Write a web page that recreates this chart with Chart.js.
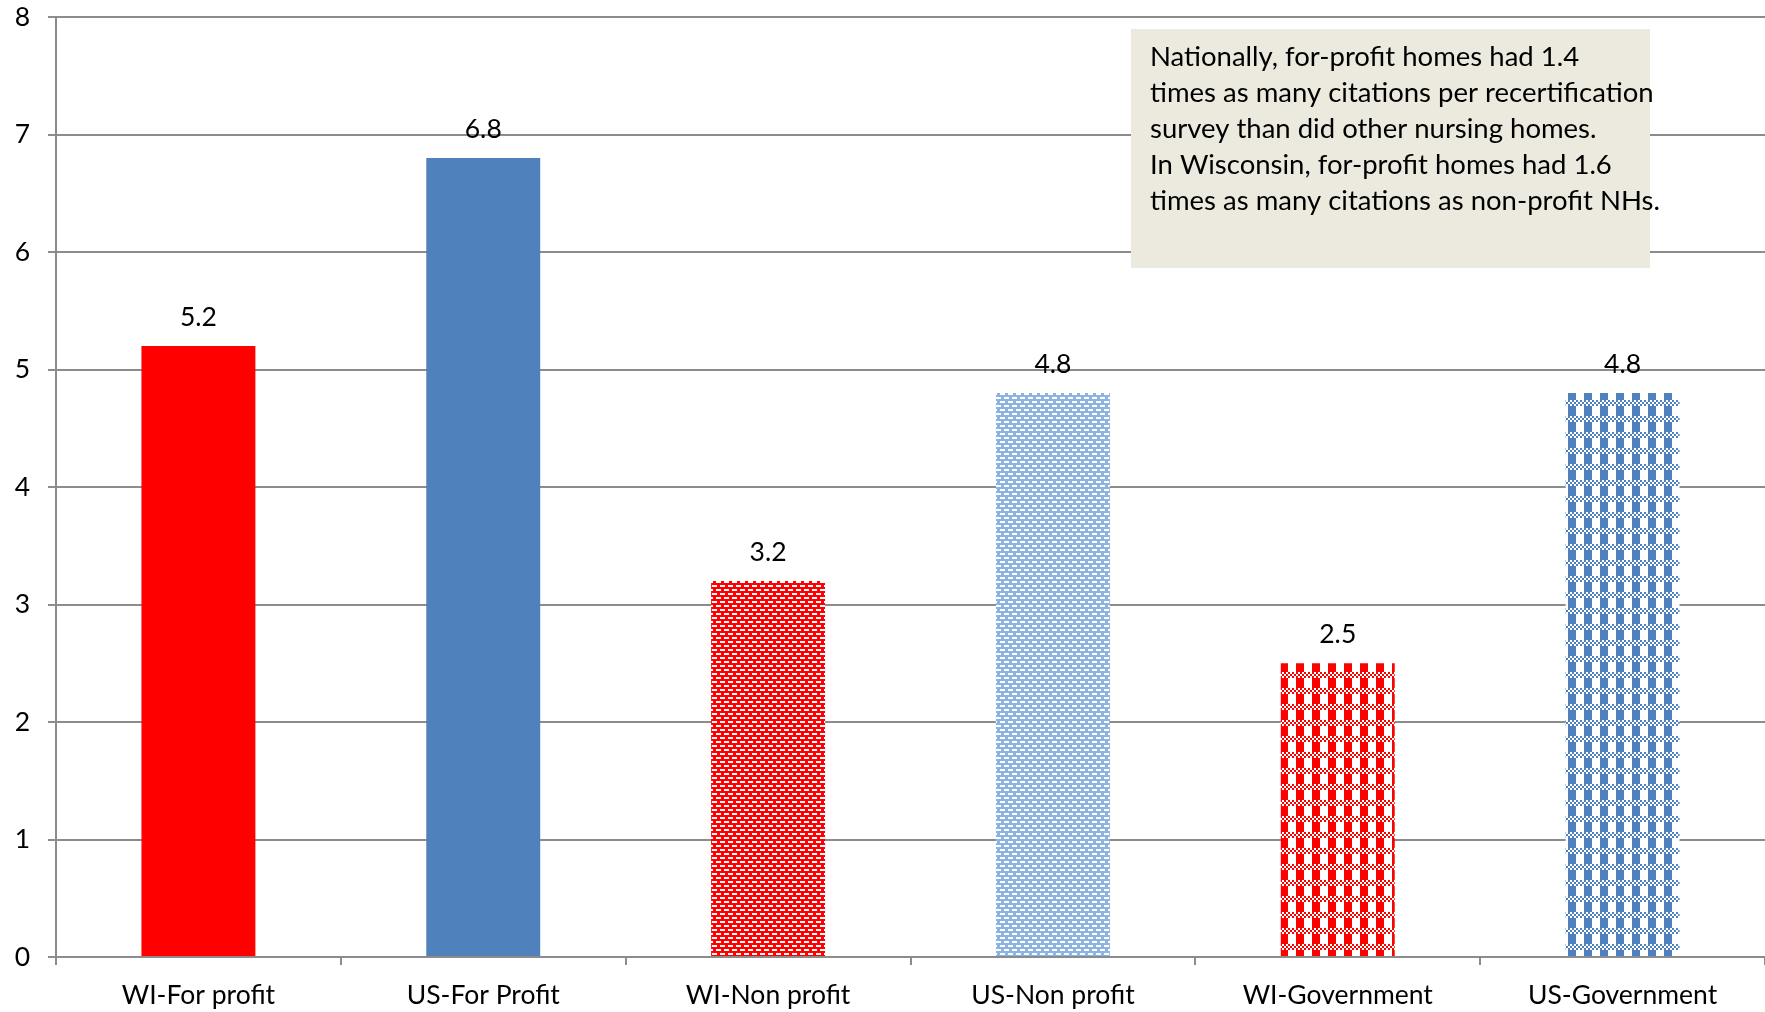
<!DOCTYPE html>
<html>
<head>
<meta charset="utf-8">
<script src="https://cdn.jsdelivr.net/npm/chart.js@4.4.1/dist/chart.umd.min.js"></script>
<style>
html,body{margin:0;padding:0;background:#fff;}
#wrap{width:1765px;height:1012px;position:relative;}
</style>
</head>
<body>
<div id="wrap"><canvas id="c" width="1765" height="1012"></canvas></div>
<script>
const categories = ["WI-For profit","US-For Profit","WI-Non profit","US-Non profit","WI-Government","US-Government"];
const values = [5.2, 6.8, 3.2, 4.8, 2.5, 4.8];
const valueLabels = ["5.2","6.8","3.2","4.8","2.5","4.8"];
const yTicks = [0,1,2,3,4,5,6,7,8];
const noteLines = [
  "Nationally, for-profit homes had 1.4",
  "times as many citations per recertification",
  "survey than did other nursing homes.",
  "In Wisconsin, for-profit homes had 1.6",
  "times as many citations as non-profit NHs."
];

const FONT = "Lato, 'Open Sans', sans-serif";
const ctx0 = document.getElementById('c').getContext('2d');

function brick(fg){
  const t = document.createElement('canvas'); t.width=8; t.height=8;
  const g = t.getContext('2d');
  g.fillStyle = fg; g.fillRect(0,0,8,8);
  g.fillStyle = '#fff';
  g.fillRect(0,1,5,2);
  g.fillRect(4,5,5,2); g.fillRect(-4,5,5,2);
  return ctx0.createPattern(t,'repeat');
}
function plaid(fg){
  const t = document.createElement('canvas'); t.width=16; t.height=16;
  const g = t.getContext('2d');
  g.fillStyle = '#fff'; g.fillRect(0,0,16,16);
  g.fillStyle = fg;
  for(let y=0;y<6;y+=2){for(let x=0;x<16;x+=2){ if(((x+y)/2)%2===0) g.fillRect(x,y,2,2);} }
  g.fillRect(0,6,8,10);
  return ctx0.createPattern(t,'repeat');
}
const RED = '#FF0000', BLUE = '#4F81BD', LBLUE = '#8DB3E2';
const fills = [RED, BLUE, brick(RED), brick(LBLUE), plaid(RED), plaid(BLUE)];

const GRID = '#8C8C8C';

const labelPlugin = {
  id:'labels',
  afterDatasetsDraw(chart){
    const c = chart.ctx;
    const meta = chart.getDatasetMeta(0);
    c.save();
    c.font = '26.5px ' + FONT;
    c.fillStyle = '#000';
    c.textAlign = 'center';
    c.textBaseline = 'alphabetic';
    meta.data.forEach((bar,i)=>{
      c.fillText(valueLabels[i], bar.x, bar.y - 20);
    });
    const bx = 1131, by = 29, bw = 519, bh = 239;
    c.fillStyle = '#ECEADF';
    c.fillRect(bx, by, bw, bh);
    c.fillStyle = '#000';
    c.font = '27.5px ' + FONT;
    c.textAlign = 'left';
    c.textBaseline = 'middle';
    noteLines.forEach((l,i)=> c.fillText(l, bx + 19, by + 28 + i*36));
    c.restore();
  }
};

new Chart(ctx0, {
  type:'bar',
  data:{
    labels: categories,
    datasets:[{
      data: values,
      backgroundColor: fills,
      borderWidth: 0,
      categoryPercentage: 1.0,
      barPercentage: 0.4
    }]
  },
  options:{
    responsive:false,
    animation:false,
    devicePixelRatio:1,
    layout:{padding:{top:17,right:0,left:0,bottom:0}},
    plugins:{legend:{display:false},tooltip:{enabled:false}},
    scales:{
      x:{
        offset:true,
        grid:{offset:true, drawOnChartArea:false, drawTicks:true, tickLength:8, color:GRID, lineWidth:2},
        border:{color:GRID, width:2},
        ticks:{font:{size:26.5, family:FONT}, color:'#000', padding:15, maxRotation:0},
        afterFit(s){ s.height = 55; s.paddingLeft = 0; s.paddingRight = 0; }
      },
      y:{
        min:0, max:8,
        afterBuildTicks(s){ s.ticks = yTicks.map(v=>({value:v})); },
        grid:{color:GRID, lineWidth:2, tickLength:8},
        border:{color:GRID, width:2},
        ticks:{font:{size:26.5, family:FONT}, color:'#000', padding:18},
        afterFit(s){ s.width = 56; s.paddingTop = 0; s.paddingBottom = 0; }
      }
    }
  },
  plugins:[labelPlugin]
});
</script>
</body>
</html>
